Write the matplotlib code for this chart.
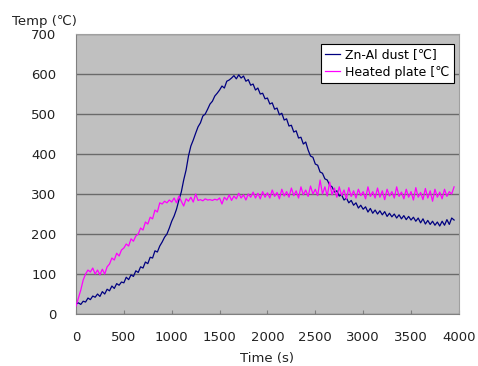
import numpy as np
import matplotlib
matplotlib.use('Agg')
import matplotlib.pyplot as plt

plt.rcParams['font.family'] = ['DejaVu Sans', 'Noto Sans CJK KR']

# time grid (s), one reading every 25 s
time_s = np.arange(0, 3951, 25)

zn_al_dust = [
    25, 28, 24, 32, 30, 40, 36, 45, 42, 50, 44, 56, 50, 62, 58, 70, 64, 76, 72, 80,
    78, 92, 86, 98, 94, 108, 104, 118, 115, 130, 126, 142, 140, 158, 155, 170, 180, 192, 200, 215,
    232, 245, 262, 285, 305, 335, 360, 395, 420, 435, 452, 468, 478, 495, 500, 512, 525, 532, 545, 552,
    560, 570, 565, 582, 585, 590, 596, 588, 598, 590, 595, 582, 586, 572, 575, 560, 565, 550, 552, 538,
    540, 525, 528, 512, 515, 498, 502, 485, 488, 470, 472, 455, 458, 440, 442, 425, 430, 410, 395, 392,
    375, 372, 355, 352, 338, 335, 322, 318, 305, 308, 295, 298, 285, 290, 278, 284, 272, 278, 265, 272,
    262, 268, 255, 264, 252, 260, 250, 258, 248, 256, 244, 252, 243, 250, 240, 248, 238, 246, 236, 244,
    235, 242, 232, 240, 228, 238, 225, 234, 224, 232, 222, 230, 220, 232, 222, 236, 224, 240, 235,
]

heated_plate = [
    20, 40, 60, 85, 100, 110, 105, 115, 100, 110, 98, 112, 100, 118, 125, 140, 135, 152, 145, 160,
    165, 175, 170, 188, 182, 195, 200, 215, 210, 230, 225, 242, 238, 260, 255, 278, 275, 282, 278, 285,
    280, 290, 278, 295, 282, 270, 288, 282, 292, 280, 300, 284, 286, 283, 288, 285, 286, 284, 287, 285,
    290, 275, 292, 285, 298, 284, 295, 288, 302, 290, 298, 285, 300, 292, 305, 290, 302, 288, 306, 292,
    303, 290, 310, 294, 304, 288, 312, 295, 306, 292, 315, 296, 308, 290, 318, 298, 310, 294, 320, 300,
    312, 296, 335, 300, 318, 295, 330, 298, 315, 292, 318, 296, 310, 288, 316, 294, 308, 290, 312, 296,
    306, 288, 318, 294, 306, 290, 315, 292, 308, 286, 312, 295, 306, 290, 318, 294, 305, 288, 312, 292,
    306, 285, 316, 292, 304, 286, 314, 290, 308, 282, 312, 292, 305, 288, 312, 294, 306, 300, 318,
]

y_ticks = [0, 100, 200, 300, 400, 500, 600, 700]
x_ticks = [0, 500, 1000, 1500, 2000, 2500, 3000, 3500, 4000]

fig = plt.figure(figsize=(4.78, 3.66), dpi=100)
ax = fig.add_axes([0.159, 0.142, 0.801, 0.765])
ax.set_facecolor('#c0c0c0')

ax.plot(time_s, zn_al_dust, color='#000080', lw=0.9, label='Zn-Al dust [℃]', zorder=3)
ax.plot(time_s, heated_plate, color='#ff00ff', lw=0.9, label='Heated plate [℃', zorder=3)

ax.set_xlim(0, 4000)
ax.set_ylim(0, 700)
ax.set_xticks(x_ticks)
ax.set_yticks(y_ticks)
ax.yaxis.grid(True, color='#6a6a6a', lw=1)
ax.set_axisbelow(True)

ax.tick_params(axis='x', direction='in', length=3, color='#808080', labelsize=9.5, pad=12,
               labelcolor='#222222')
ax.tick_params(axis='y', length=0, labelsize=9.5, pad=14, labelcolor='#222222')
for s in ['left', 'bottom']:
    ax.spines[s].set_color('#808080')
for s in ['top', 'right']:
    ax.spines[s].set_color('#a0a0a0')

fig.text(0.025, 0.94, 'Temp (℃)', fontsize=9.5, ha='left', va='center', color='#222222')
ax.set_xlabel('Time (s)', fontsize=9.5, labelpad=6, color='#222222')

leg = ax.legend(loc='upper left', bbox_to_anchor=(0.64, 0.965), fontsize=9,
                fancybox=False, framealpha=1, edgecolor='black',
                handlelength=1.2, handletextpad=0.4, borderpad=0.35,
                labelspacing=0.35, borderaxespad=0)
leg.get_frame().set_linewidth(0.8)

fig.savefig('out.png', dpi=100)
